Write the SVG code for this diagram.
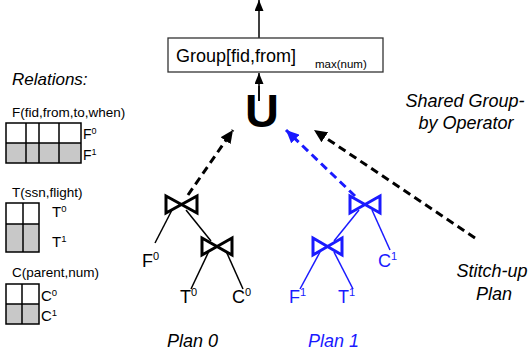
<svg xmlns="http://www.w3.org/2000/svg" width="528" height="360" viewBox="0 0 528 360">
<defs>
<style>
text{font-family:"Liberation Sans",Arial,sans-serif;fill:#000}
.it{font-style:italic}
.blue{fill:#1a1aff}
.tbl{stroke:#000;stroke-width:1.5;fill:none}
.gray{fill:#c8c8c8;stroke:none}
.bt{fill:none;stroke-width:3;stroke-linejoin:miter}
.edge{stroke-width:1.5;fill:none}
.dash{stroke-width:3;fill:none;stroke-dasharray:8 5}
</style>
<marker id="ahK" markerUnits="userSpaceOnUse" markerWidth="14" markerHeight="12" refX="13" refY="6" orient="auto"><path d="M0,0 L13,6 L0,12 Z" fill="#000"/></marker>
<marker id="ahB" markerUnits="userSpaceOnUse" markerWidth="14" markerHeight="12" refX="13" refY="6" orient="auto"><path d="M0,0 L13,6 L0,12 Z" fill="#1a1aff"/></marker>
<marker id="ahS" markerUnits="userSpaceOnUse" markerWidth="12" markerHeight="9" refX="11" refY="4.5" orient="auto"><path d="M0,0 L11,4.5 L0,9 Z" fill="#000"/></marker>
</defs>

<g id="relations">
<text x="12" y="85" class="it" font-size="17">Relations:</text>
<text x="12" y="117" font-size="13.5">F(fid,from,to,when)</text>
<rect class="gray" x="6" y="143" width="75" height="20"/>
<rect class="tbl" x="6" y="123" width="75" height="40"/>
<path class="tbl" d="M6,143H81M26,123V163M39,123V163M59,123V163"/>
<text x="83" y="139" font-size="14">F<tspan dy="-5" font-size="9">0</tspan></text>
<text x="83" y="160" font-size="14">F<tspan dy="-5" font-size="9">1</tspan></text>

<text x="12" y="197" font-size="13.5">T(ssn,flight)</text>
<rect class="gray" x="6" y="224" width="33" height="28"/>
<rect class="tbl" x="6" y="203" width="33" height="49"/>
<path class="tbl" d="M6,224H39M23,203V252"/>
<text x="52" y="217" font-size="15">T<tspan dy="-5" font-size="9.5">0</tspan></text>
<text x="52" y="247" font-size="15">T<tspan dy="-5" font-size="9.5">1</tspan></text>

<text x="12" y="277" font-size="13.5">C(parent,num)</text>
<rect class="gray" x="6" y="304" width="33" height="20"/>
<rect class="tbl" x="6" y="284" width="33" height="40"/>
<path class="tbl" d="M6,304H39M22,284V324"/>
<text x="41" y="301" font-size="15">C<tspan dy="-5" font-size="9.5">0</tspan></text>
<text x="41" y="321" font-size="15">C<tspan dy="-5" font-size="9.5">1</tspan></text>
</g>

<g id="connectors">
<line x1="259" y1="38" x2="259" y2="0" stroke="#000" stroke-width="1.5" marker-end="url(#ahS)"/>
<line x1="259" y1="101" x2="259" y2="73" stroke="#000" stroke-width="1.5" marker-end="url(#ahS)"/>
<line class="dash" x1="188" y1="195" x2="233" y2="130" stroke="#000" marker-end="url(#ahK)"/>
<line class="dash" x1="355" y1="196" x2="286" y2="130" stroke="#1a1aff" marker-end="url(#ahB)"/>
<line class="dash" x1="475" y1="238" x2="314" y2="130" stroke="#000" marker-end="url(#ahK)"/>
<g stroke="#000" class="edge">
<line x1="172" y1="210" x2="155" y2="243"/>
<line x1="186" y1="210" x2="211" y2="241"/>
<line x1="209" y1="251" x2="191" y2="289"/>
<line x1="226" y1="251" x2="243" y2="289"/>
</g>
<g stroke="#1a1aff" class="edge">
<line x1="372" y1="210" x2="390" y2="250"/>
<line x1="359" y1="210" x2="334" y2="241"/>
<line x1="320" y1="252" x2="300" y2="289"/>
<line x1="334" y1="252" x2="353" y2="289"/>
</g>
</g>

<g id="group-op">
<rect x="168" y="38" width="215" height="34" fill="#fff" stroke="#333" stroke-width="1.3"/>
<text x="176" y="62" font-size="18">Group[fid,from]</text>
<text x="315" y="68" font-size="11.5">max(num)</text>
</g>

<g id="union">
<text x="262" y="127" font-size="47" font-weight="bold" text-anchor="middle">U</text>
<line x1="259" y1="86" x2="259" y2="101" stroke="#000" stroke-width="1.5"/>
</g>

<g id="plan0">
<path class="bt" stroke="#000" d="M166,196 L197,213 L197,196 L166,213 Z"/>
<path class="bt" stroke="#000" d="M202,238 L232,255 L232,238 L202,255 Z"/>
<text x="142" y="267" font-size="18">F<tspan dy="-7" font-size="11">0</tspan></text>
<text x="180" y="303" font-size="18">T<tspan dy="-7" font-size="11">0</tspan></text>
<text x="232" y="303" font-size="18">C<tspan dy="-7" font-size="11">0</tspan></text>
<text x="167" y="347" class="it" font-size="18">Plan 0</text>
</g>

<g id="plan1">
<path class="bt" stroke="#1a1aff" d="M350,196 L380,213 L380,196 L350,213 Z"/>
<path class="bt" stroke="#1a1aff" d="M313,238 L342,255 L342,238 L313,255 Z"/>
<text x="378" y="267" font-size="18" class="blue">C<tspan dy="-7" font-size="11">1</tspan></text>
<text x="289" y="303" font-size="18" class="blue">F<tspan dy="-7" font-size="11">1</tspan></text>
<text x="338" y="303" font-size="18" class="blue">T<tspan dy="-7" font-size="11">1</tspan></text>
<text x="308" y="347" class="it blue" font-size="18">Plan 1</text>
</g>

<g id="labels">
<text x="465" y="107" class="it" font-size="18" text-anchor="middle">Shared Group-</text>
<text x="466" y="129" class="it" font-size="18" text-anchor="middle">by Operator</text>
<text x="492" y="277" class="it" font-size="18" text-anchor="middle">Stitch-up</text>
<text x="494" y="300" class="it" font-size="18" text-anchor="middle">Plan</text>
</g>
</svg>
